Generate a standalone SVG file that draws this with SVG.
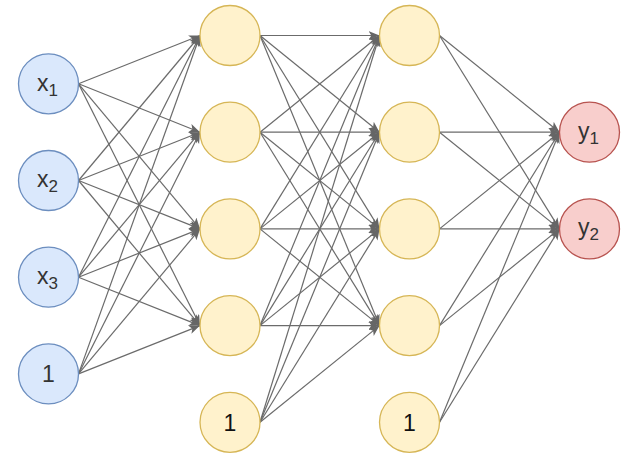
<svg xmlns="http://www.w3.org/2000/svg" width="638" height="458" viewBox="0 0 638 458">
<defs>
<marker id="arr" markerUnits="userSpaceOnUse" markerWidth="13" markerHeight="10" refX="11" refY="4.5" orient="auto">
<path d="M0,0 L11,4.5 L0,9 L2.8,4.5 Z" fill="#666666"/>
</marker>
<style>
.e{stroke:#6b6b6b;stroke-width:1.2;fill:none;marker-end:url(#arr)}
.in{fill:#dae8fc;stroke:#6c8ebf;stroke-width:1.3}
.hd{fill:#fff2cc;stroke:#d6b656;stroke-width:1.3}
.out{fill:#f8cecc;stroke:#b85450;stroke-width:1.3}
text{font-family:"Liberation Sans",Arial,sans-serif;font-size:23px;fill:#333333;text-anchor:middle}
.b{fill:#111111}
</style>
</defs>
<rect width="638" height="458" fill="#ffffff"/>
<g id="connectors">
<line class="e" x1="78.5" y1="83.8" x2="200" y2="35.5"/>
<line class="e" x1="78.5" y1="83.8" x2="200" y2="132.2"/>
<line class="e" x1="78.5" y1="83.8" x2="200" y2="228.9"/>
<line class="e" x1="78.5" y1="83.8" x2="200" y2="325.6"/>
<line class="e" x1="78.5" y1="180.5" x2="200" y2="35.5"/>
<line class="e" x1="78.5" y1="180.5" x2="200" y2="132.2"/>
<line class="e" x1="78.5" y1="180.5" x2="200" y2="228.9"/>
<line class="e" x1="78.5" y1="180.5" x2="200" y2="325.6"/>
<line class="e" x1="78.5" y1="277.2" x2="200" y2="35.5"/>
<line class="e" x1="78.5" y1="277.2" x2="200" y2="132.2"/>
<line class="e" x1="78.5" y1="277.2" x2="200" y2="228.9"/>
<line class="e" x1="78.5" y1="277.2" x2="200" y2="325.6"/>
<line class="e" x1="78.5" y1="373.9" x2="200" y2="35.5"/>
<line class="e" x1="78.5" y1="373.9" x2="200" y2="132.2"/>
<line class="e" x1="78.5" y1="373.9" x2="200" y2="228.9"/>
<line class="e" x1="78.5" y1="373.9" x2="200" y2="325.6"/>
<line class="e" x1="260" y1="35.5" x2="379.5" y2="35.5"/>
<line class="e" x1="260" y1="35.5" x2="379.5" y2="132.2"/>
<line class="e" x1="260" y1="35.5" x2="379.5" y2="228.9"/>
<line class="e" x1="260" y1="35.5" x2="379.5" y2="325.6"/>
<line class="e" x1="260" y1="132.2" x2="379.5" y2="35.5"/>
<line class="e" x1="260" y1="132.2" x2="379.5" y2="132.2"/>
<line class="e" x1="260" y1="132.2" x2="379.5" y2="228.9"/>
<line class="e" x1="260" y1="132.2" x2="379.5" y2="325.6"/>
<line class="e" x1="260" y1="228.9" x2="379.5" y2="35.5"/>
<line class="e" x1="260" y1="228.9" x2="379.5" y2="132.2"/>
<line class="e" x1="260" y1="228.9" x2="379.5" y2="228.9"/>
<line class="e" x1="260" y1="228.9" x2="379.5" y2="325.6"/>
<line class="e" x1="260" y1="325.6" x2="379.5" y2="35.5"/>
<line class="e" x1="260" y1="325.6" x2="379.5" y2="132.2"/>
<line class="e" x1="260" y1="325.6" x2="379.5" y2="228.9"/>
<line class="e" x1="260" y1="325.6" x2="379.5" y2="325.6"/>
<line class="e" x1="260" y1="422.3" x2="379.5" y2="35.5"/>
<line class="e" x1="260" y1="422.3" x2="379.5" y2="132.2"/>
<line class="e" x1="260" y1="422.3" x2="379.5" y2="228.9"/>
<line class="e" x1="260" y1="422.3" x2="379.5" y2="325.6"/>
<line class="e" x1="439.5" y1="35.5" x2="559.5" y2="132.2"/>
<line class="e" x1="439.5" y1="35.5" x2="559.5" y2="228.9"/>
<line class="e" x1="439.5" y1="132.2" x2="559.5" y2="132.2"/>
<line class="e" x1="439.5" y1="132.2" x2="559.5" y2="228.9"/>
<line class="e" x1="439.5" y1="228.9" x2="559.5" y2="132.2"/>
<line class="e" x1="439.5" y1="228.9" x2="559.5" y2="228.9"/>
<line class="e" x1="439.5" y1="325.6" x2="559.5" y2="132.2"/>
<line class="e" x1="439.5" y1="325.6" x2="559.5" y2="228.9"/>
<line class="e" x1="439.5" y1="422.3" x2="559.5" y2="132.2"/>
<line class="e" x1="439.5" y1="422.3" x2="559.5" y2="228.9"/>
</g>
<g id="x1"><circle class="in" cx="48.5" cy="83.8" r="30"/><text x="47.5" y="90.5">x<tspan font-size="17" dy="5">1</tspan></text></g>
<g id="x2"><circle class="in" cx="48.5" cy="180.5" r="30"/><text x="47.5" y="187.2">x<tspan font-size="17" dy="5">2</tspan></text></g>
<g id="x3"><circle class="in" cx="48.5" cy="277.2" r="30"/><text x="47.5" y="283.9">x<tspan font-size="17" dy="5">3</tspan></text></g>
<g id="in_bias"><circle class="in" cx="48.5" cy="373.9" r="30"/><text x="48.5" y="382">1</text></g>
<g id="h1_1"><circle class="hd" cx="230" cy="35.5" r="30"/></g>
<g id="h1_2"><circle class="hd" cx="230" cy="132.2" r="30"/></g>
<g id="h1_3"><circle class="hd" cx="230" cy="228.9" r="30"/></g>
<g id="h1_4"><circle class="hd" cx="230" cy="325.6" r="30"/></g>
<g id="h1_bias"><circle class="hd" cx="230" cy="422.3" r="30"/><text class="b" x="230" y="430.5">1</text></g>
<g id="h2_1"><circle class="hd" cx="409.5" cy="35.5" r="30"/></g>
<g id="h2_2"><circle class="hd" cx="409.5" cy="132.2" r="30"/></g>
<g id="h2_3"><circle class="hd" cx="409.5" cy="228.9" r="30"/></g>
<g id="h2_4"><circle class="hd" cx="409.5" cy="325.6" r="30"/></g>
<g id="h2_bias"><circle class="hd" cx="409.5" cy="422.3" r="30"/><text class="b" x="409.5" y="430.5">1</text></g>
<g id="y1"><circle class="out" cx="589.5" cy="132.2" r="30"/><text x="588.5" y="138.5">y<tspan font-size="17" dy="5">1</tspan></text></g>
<g id="y2"><circle class="out" cx="589.5" cy="228.9" r="30"/><text x="588.5" y="235.2">y<tspan font-size="17" dy="5">2</tspan></text></g>
</svg>
